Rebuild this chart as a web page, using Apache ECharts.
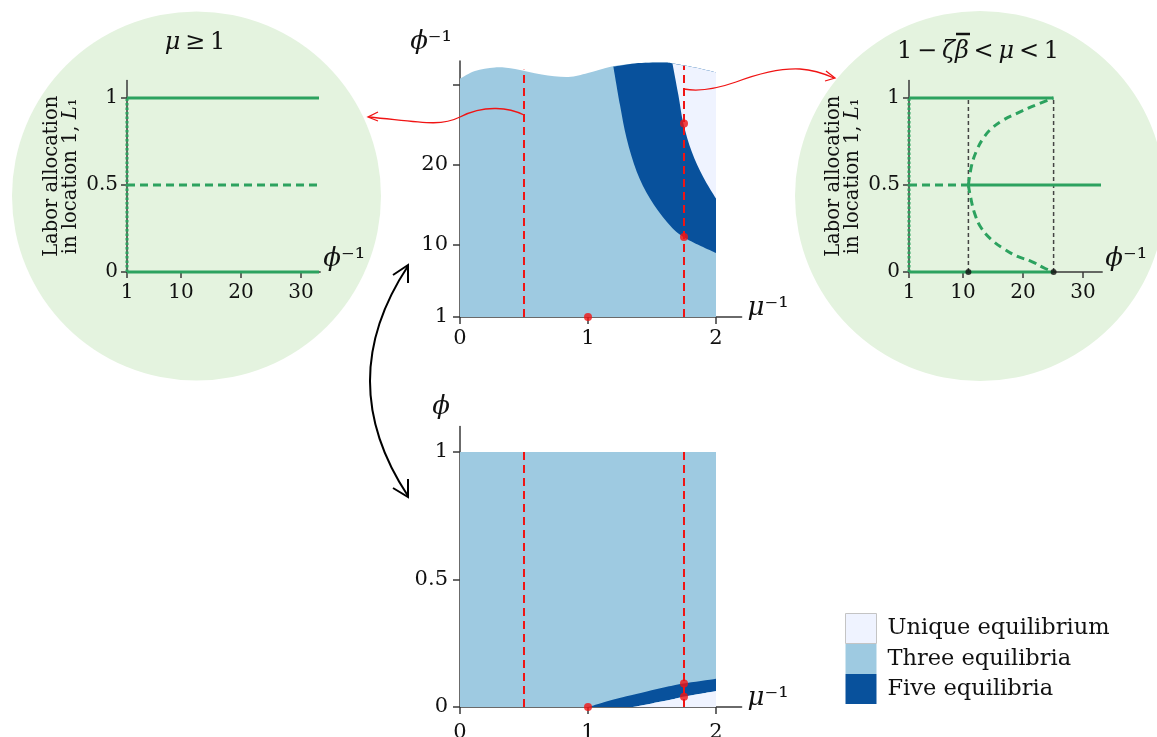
<!DOCTYPE html>
<html>
<head>
<meta charset="utf-8">
<script src="https://cdn.jsdelivr.net/npm/echarts@6/dist/echarts.min.js"></script>
<style>html,body{margin:0;padding:0;background:#fff}#c{width:1157px;height:737px}</style>
</head>
<body>
<div id="c"></div>
<script>
// ---------- data ----------
const muTicks = [0, 1, 2];
const phiInvTicks = [1, 10, 20, 30];
const phiInvLabels = [1, 10, 20];
const phiTicks = [0, 0.5, 1];
const circleXTicks = [1, 10, 20, 30];
const circleYTicks = [0, 0.5, 1];
const muDomain = [0, 2];
const phiDomain = [0, 1];
const phiInvBase = 1;

// top panel (phi^-1 vs mu^-1): torn upper edge and region boundaries
const tornEdge = [[0,30.8],[0.117,31.75],[0.273,32.2],[0.43,32.0],[0.638,31.3],[0.846,31.0],[1.0,31.5],[1.185,32.3],[1.367,32.7],[1.576,32.8],[1.66,32.7],[1.836,32.2],[2.0,31.6]];
const fiveLowerInv = [[1.198,32.3],[1.25,27.5],[1.302,23.3],[1.38,19.2],[1.484,15.8],[1.615,12.9],[1.745,11.0],[2.0,9.0]];
const fiveUpperInv = [[1.66,32.7],[1.706,28.75],[1.745,25.2],[1.81,21.7],[1.90,18.5],[2.0,15.8]];

// bottom panel (phi vs mu^-1)
const fiveUpperPhi = [[1,0],[1.1,0.015],[1.2,0.029],[1.3,0.042],[1.46,0.061],[1.6,0.077],[1.745,0.092],[2,0.111]];
const fiveLowerPhi = [[1.35,0],[1.5,0.014],[1.66,0.030],[1.745,0.040],[1.9,0.054],[2,0.063]];

// red markers
const redDashMu = [0.5, 1.75];
const redDashTopInv = [31.9, 32.4];
const redDotsTop = [[1,1],[1.75,25.2],[1.75,11.0]];
const redDotsBottom = [[1,0],[1.75,0.092],[1.75,0.040]];

// left inset (mu >= 1)
const leftStableTop = [[1,1],[33,1]];
const leftStableBottom = [[1,0],[33,0]];
const leftUnstableMid = [[1,0.5],[33,0.5]];
const leftVertical = [[1,0],[1,1]];

// right inset (1 - zeta*beta < mu < 1)
const rightStableTop = [[1,1],[25.1,1]];
const rightStableBottom = [[1,0],[25.1,0]];
const rightUnstableMid = [[1,0.5],[10.9,0.5]];
const rightStableMid = [[10.9,0.5],[33,0.5]];
const rightForkUpper = [[10.9,0.5],[11.45,0.615],[12.3,0.70],[13.4,0.77],[14.8,0.826],[16.7,0.873],[18.9,0.91],[21.45,0.95],[25.05,1.0]];
const rightForkLower = [[10.9,0.5],[11.2,0.44],[12.0,0.33],[13.1,0.25],[14.8,0.184],[16.7,0.136],[18.9,0.092],[21.45,0.06],[23.7,0.02],[25.05,0.0]];
const rightVertical = [[1,0],[1,1]];
const rightBifurcations = [10.9, 25.1];

const legendNames = ['Unique equilibrium', 'Three equilibria', 'Five equilibria'];
const regionColors = ['#eff3ff', '#9ecae1', '#08519c'];

// ---------- styles ----------
const FONT = 'DejaVu Serif';
const GREEN = '#2ca25f';
const RED = '#f01414';
const AX = '#3a3a3a';

// Catmull-Rom smoothing of pixel points into an SVG path fragment
function crPath(P) {
  let d = '';
  for (let i = 0; i < P.length - 1; i++) {
    const p0 = P[i - 1] || P[i], p1 = P[i], p2 = P[i + 1], p3 = P[i + 2] || P[i + 1];
    const c1 = [p1[0] + (p2[0] - p0[0]) / 6, p1[1] + (p2[1] - p0[1]) / 6];
    const c2 = [p2[0] - (p3[0] - p1[0]) / 6, p2[1] - (p3[1] - p1[1]) / 6];
    d += ' C' + c1[0] + ',' + c1[1] + ' ' + c2[0] + ',' + c2[1] + ' ' + p2[0] + ',' + p2[1];
  }
  return d;
}
// segs: [{pts:[[x,y]...], smooth:bool}] in data coordinates
function region(name, color, segs, gi) {
  return {
    type: 'custom', name: name, xAxisIndex: gi, yAxisIndex: gi, silent: true, z: 1,
    itemStyle: { color: color },
    data: [segs[0].pts[0]],
    renderItem: function (params, api) {
      let d = '';
      segs.forEach(function (s, k) {
        const P = s.pts.map(function (p) { return api.coord(p); });
        d += (k === 0 ? 'M' : ' L') + P[0][0] + ',' + P[0][1];
        if (s.smooth) d += crPath(P);
        else for (let i = 1; i < P.length; i++) d += ' L' + P[i][0] + ',' + P[i][1];
      });
      d += ' Z';
      return { type: 'path', shape: { pathData: d }, style: { fill: api.visual('color') } };
    }
  };
}
function line(pts, gi, color, width, type, z, smooth) {
  return { type: 'line', xAxisIndex: gi, yAxisIndex: gi, data: pts, symbol: 'none', silent: true,
           smooth: smooth || false,
           clip: false, z: z || 3, lineStyle: { color: color, width: width, type: type || 'solid' } };
}
function dots(pts, gi, color, size) {
  return { type: 'scatter', xAxisIndex: gi, yAxisIndex: gi, data: pts, symbolSize: size, silent: true,
           clip: false, z: 5, itemStyle: { color: color } };
}
function axisCommon(extra) {
  const base = {
    type: 'value', splitLine: { show: false },
    axisLine: { show: true, onZero: false, lineStyle: { color: AX, width: 1.5 } },
    axisTick: { show: true, length: 6, lineStyle: { color: AX, width: 1.5 } },
    axisLabel: { color: '#111', fontFamily: FONT, fontSize: 20, margin: 12 },
    nameTextStyle: { fontFamily: FONT, color: '#111' }
  };
  return Object.assign(base, extra);
}
function bez(p, stroke, w) {
  return { type: 'bezierCurve', z: 100, silent: true,
           shape: { x1: p[0], y1: p[1], cpx1: p[2], cpy1: p[3], cpx2: p[4], cpy2: p[5], x2: p[6], y2: p[7] },
           style: { stroke: stroke, lineWidth: w, fill: null } };
}
function qbez(p, stroke, w) {
  return { type: 'bezierCurve', z: 100, silent: true,
           shape: { x1: p[0], y1: p[1], cpx1: p[2], cpy1: p[3], x2: p[4], y2: p[5] },
           style: { stroke: stroke, lineWidth: w, fill: null } };
}
function head(pts, stroke, w) {
  return { type: 'polyline', z: 100, silent: true, shape: { points: pts }, style: { stroke: stroke, lineWidth: w, fill: null } };
}

// ---------- regions ----------
const rev = function (a) { return a.slice().reverse(); };
const edgeAfter = function (m) { return tornEdge.filter(function (p) { return p[0] > m + 0.02; }); };

const series = [
  region(legendNames[1], regionColors[1], [
    { pts: [[muDomain[0], phiInvBase], [muDomain[1], phiInvBase]], smooth: false },
    { pts: rev(tornEdge), smooth: true }], 0),
  region(legendNames[2], regionColors[2], [
    { pts: [fiveLowerInv[0]].concat(edgeAfter(fiveLowerInv[0][0])), smooth: true },
    { pts: rev(fiveLowerInv), smooth: true }], 0),
  region(legendNames[0], regionColors[0], [
    { pts: [fiveUpperInv[0]].concat(edgeAfter(fiveUpperInv[0][0])), smooth: true },
    { pts: rev(fiveUpperInv), smooth: true }], 0),
  region(legendNames[1], regionColors[1], [
    { pts: [[muDomain[0], phiDomain[0]], [muDomain[1], phiDomain[0]], [muDomain[1], phiDomain[1]], [muDomain[0], phiDomain[1]]], smooth: false }], 1),
  region(legendNames[2], regionColors[2], [
    { pts: fiveUpperPhi, smooth: true },
    { pts: rev(fiveLowerPhi), smooth: true }], 1),
  region(legendNames[0], regionColors[0], [
    { pts: fiveLowerPhi, smooth: true },
    { pts: [[muDomain[1], phiDomain[0]]], smooth: false }], 1)
];
redDashMu.forEach(function (m, i) {
  series.push(line([[m, phiInvBase], [m, redDashTopInv[i]]], 0, RED, 2, [8, 5]));
  series.push(line([[m, phiDomain[0]], [m, phiDomain[1]]], 1, RED, 2, [8, 5]));
});
series.push(dots(redDotsTop, 0, RED, 8));
series.push(dots(redDotsBottom, 1, RED, 8));

// left inset
series.push(line(leftStableTop, 2, GREEN, 3));
series.push(line(leftStableBottom, 2, GREEN, 3));
series.push(line(leftUnstableMid, 2, GREEN, 3, [8, 5]));
series.push(line(leftVertical, 2, GREEN, 3, [2.5, 2]));
// right inset
rightBifurcations.forEach(function (b) {
  series.push(line([[b, 0], [b, 1]], 3, '#444', 1.5, [4, 3], 2));
});
series.push(line(rightStableTop, 3, GREEN, 3));
series.push(line(rightStableBottom, 3, GREEN, 3));
series.push(line(rightUnstableMid, 3, GREEN, 3, [8, 5]));
series.push(line(rightStableMid, 3, GREEN, 3));
series.push(line(rightForkUpper, 3, GREEN, 3, [8, 5], 3, 0.4));
series.push(line(rightForkLower, 3, GREEN, 3, [8, 5], 3, 0.4));
series.push(line(rightVertical, 3, GREEN, 3, [2.5, 2]));
series.push(dots(rightBifurcations.map(function (b) { return [b, 0]; }), 3, '#111', 6));

const supRich = { i: { fontStyle: 'italic', fontFamily: FONT, fontSize: 26, color: '#111' },
                  s: { fontFamily: FONT, fontSize: 26, color: '#111' } };
const ylabRich = { i: { fontStyle: 'italic', fontFamily: FONT, fontSize: 19.5, color: '#111' } };
const TS = '\u2009';

const option = {
  animation: false,
  backgroundColor: '#fff',
  grid: [
    { left: 460, top: 61, width: 281.6, height: 256, containLabel: false, outerBoundsMode: 'none' },
    { left: 460, top: 426.5, width: 281.6, height: 280.5, containLabel: false, outerBoundsMode: 'none' },
    { left: 127, top: 80.6, width: 193.2, height: 191.4, containLabel: false, outerBoundsMode: 'none' },
    { left: 909, top: 80.6, width: 193.2, height: 191.4, containLabel: false, outerBoundsMode: 'none' }
  ],
  xAxis: [
    axisCommon({ gridIndex: 0, min: 0, max: 2.2,
      axisTick: { show: true, length: 7, customValues: muTicks, lineStyle: { color: AX, width: 1.5 } },
      axisLabel: { customValues: muTicks, color: '#111', fontFamily: FONT, fontSize: 21, margin: 11 },
      name: '{i|μ}{s|⁻¹}', nameLocation: 'end', nameGap: 6,
      nameTextStyle: { verticalAlign: 'bottom', align: 'left', padding: [0, 0, -4, 0], rich: supRich } }),
    axisCommon({ gridIndex: 1, min: 0, max: 2.2,
      axisTick: { show: true, length: 7, customValues: muTicks, lineStyle: { color: AX, width: 1.5 } },
      axisLabel: { customValues: muTicks, color: '#111', fontFamily: FONT, fontSize: 21, margin: 15 },
      name: '{i|μ}{s|⁻¹}', nameLocation: 'end', nameGap: 6,
      nameTextStyle: { verticalAlign: 'bottom', align: 'left', padding: [0, 0, -4, 0], rich: supRich } }),
    axisCommon({ gridIndex: 2, min: 1, max: 33.2,
      axisTick: { show: true, length: 6, customValues: circleXTicks, lineStyle: { color: AX, width: 1.5 } },
      axisLabel: { customValues: circleXTicks, color: '#111', fontFamily: FONT, fontSize: 20, margin: 11 },
      name: '{i|ϕ}{s|⁻¹}', nameLocation: 'end', nameGap: 3,
      nameTextStyle: { verticalAlign: 'bottom', align: 'left', rich: supRich } }),
    axisCommon({ gridIndex: 3, min: 1, max: 33.2,
      axisTick: { show: true, length: 6, customValues: circleXTicks, lineStyle: { color: AX, width: 1.5 } },
      axisLabel: { customValues: circleXTicks, color: '#111', fontFamily: FONT, fontSize: 20, margin: 11 },
      name: '{i|ϕ}{s|⁻¹}', nameLocation: 'end', nameGap: 3,
      nameTextStyle: { verticalAlign: 'bottom', align: 'left', rich: supRich } })
  ],
  yAxis: [
    axisCommon({ gridIndex: 0, min: 1, max: 33,
      axisTick: { show: true, length: 7, customValues: phiInvTicks, lineStyle: { color: AX, width: 1.5 } },
      axisLabel: { customValues: phiInvLabels, color: '#111', fontFamily: FONT, fontSize: 21, margin: 12 },
      name: '{i|ϕ}{s|⁻¹}', nameLocation: 'end', nameGap: 6,
      nameTextStyle: { verticalAlign: 'bottom', align: 'right', padding: [0, 8, 0, 0], rich: supRich } }),
    axisCommon({ gridIndex: 1, min: 0, max: 1.1,
      axisTick: { show: true, length: 7, customValues: phiTicks, lineStyle: { color: AX, width: 1.5 } },
      axisLabel: { customValues: phiTicks, color: '#111', fontFamily: FONT, fontSize: 21, margin: 12 },
      name: '{i|ϕ}', nameLocation: 'end', nameGap: 6,
      nameTextStyle: { verticalAlign: 'bottom', align: 'right', padding: [0, 10, 0, 0], rich: supRich } }),
    axisCommon({ gridIndex: 2, min: 0, max: 1.1,
      axisTick: { show: true, length: 6, customValues: circleYTicks, lineStyle: { color: AX, width: 1.5 } },
      axisLabel: { customValues: circleYTicks, color: '#111', fontFamily: FONT, fontSize: 20, margin: 9 },
      name: 'Labor allocation\nin location 1, {i|L}₁', nameLocation: 'middle', nameGap: 47,
      nameTextStyle: { fontFamily: FONT, fontSize: 19.5, lineHeight: 19, color: '#111', rich: ylabRich } }),
    axisCommon({ gridIndex: 3, min: 0, max: 1.1,
      axisTick: { show: true, length: 6, customValues: circleYTicks, lineStyle: { color: AX, width: 1.5 } },
      axisLabel: { customValues: circleYTicks, color: '#111', fontFamily: FONT, fontSize: 20, margin: 9 },
      name: 'Labor allocation\nin location 1, {i|L}₁', nameLocation: 'middle', nameGap: 47,
      nameTextStyle: { fontFamily: FONT, fontSize: 19.5, lineHeight: 19, color: '#111', rich: ylabRich } })
  ],
  legend: {
    orient: 'vertical', left: 845, top: 613, padding: 0, itemWidth: 31, itemHeight: 30, itemGap: 0,
    selectedMode: false, icon: 'rect',
    textStyle: { fontFamily: FONT, fontSize: 22.5, color: '#111', padding: [0, 0, 0, 6] },
    data: [
      { name: legendNames[0], itemStyle: { borderColor: '#c4c4c4', borderWidth: 1 } },
      { name: legendNames[1] },
      { name: legendNames[2] }
    ]
  },
  graphic: [
    { type: 'circle', z: -10, silent: true, shape: { cx: 196.5, cy: 196, r: 184.5 }, style: { fill: '#e4f3df' } },
    { type: 'circle', z: -10, silent: true, shape: { cx: 980, cy: 196, r: 185 }, style: { fill: '#e4f3df' } },
    { type: 'text', z: 50, x: 195, y: 43, style: { text: '{i|μ}' + TS + '≥' + TS + '1', textAlign: 'center', verticalAlign: 'middle',
        fontFamily: FONT, fontSize: 24, fill: '#111',
        rich: { i: { fontStyle: 'italic', fontFamily: FONT, fontSize: 24, fill: '#111' } } } },
    { type: 'text', z: 50, x: 978, y: 52, style: { text: '1' + TS + '−' + TS + '{i|ζβ}' + TS + '<' + TS + '{i|μ}' + TS + '<' + TS + '1',
        textAlign: 'center', verticalAlign: 'middle',
        fontFamily: FONT, fontSize: 24, fill: '#111',
        rich: { i: { fontStyle: 'italic', fontFamily: FONT, fontSize: 24, fill: '#111' } } } },
    { type: 'line', z: 50, silent: true, shape: { x1: 956, y1: 34, x2: 970, y2: 34 }, style: { stroke: '#111', lineWidth: 2.5 } },
    // red connector arrows
    bez([524, 115, 510, 108, 485, 104, 460, 117], RED, 1.3),
    bez([460, 117, 440, 127, 420, 122, 369, 117], RED, 1.3),
    head([[378, 112], [368, 117], [378, 121]], RED, 1.3),
    bez([684, 89, 700, 92, 716, 89, 736, 82], RED, 1.3),
    bez([736, 82, 760, 73, 780, 68, 800, 69], RED, 1.3),
    bez([800, 69, 815, 70, 825, 74, 834, 78], RED, 1.3),
    head([[826, 71], [835, 78], [825, 81]], RED, 1.3),
    // black double arrow between panels
    qbez([408, 266, 332, 381, 408, 496], '#000', 2),
    head([[393, 275], [408, 265], [408, 283]], '#000', 2),
    head([[393, 488], [408, 497], [408, 479]], '#000', 2)
  ],
  series: series
};

const chart = echarts.init(document.getElementById('c'), null, { renderer: 'canvas' });
chart.setOption(option);
</script>
</body>
</html>
